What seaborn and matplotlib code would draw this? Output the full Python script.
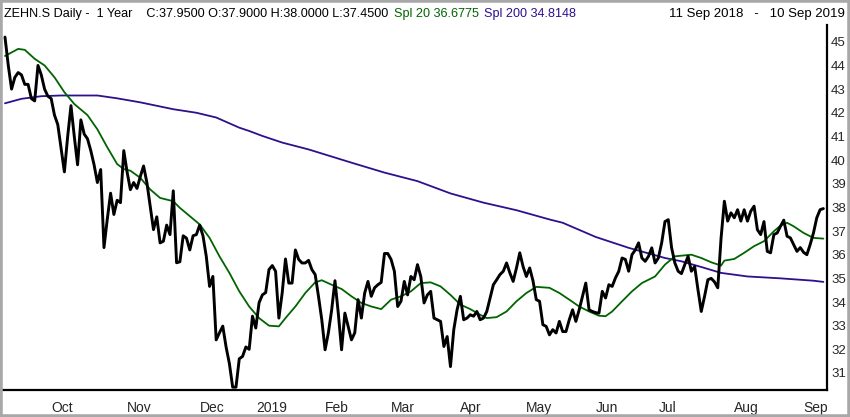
import numpy as np
import pandas as pd
import matplotlib
matplotlib.use("Agg")
import matplotlib.pyplot as plt
import matplotlib.patches as mpatches
import seaborn as sns

sns.set_style("white")
plt.rcParams["font.family"] = ["Liberation Sans", "DejaVu Sans"]

# trading days (SIX), 11 Sep 2018 - 10 Sep 2019
start, end = "2018-09-11", "2019-09-10"
holidays = ["2018-12-24", "2018-12-25", "2018-12-26", "2018-12-31",
            "2019-01-01", "2019-01-02", "2019-04-19", "2019-04-22",
            "2019-05-01", "2019-05-30", "2019-06-10", "2019-08-01"]

# daily close
close = [
    45.2, 44.0, 43.0, 43.5, 43.7, 43.6, 43.2, 43.2, 42.6, 42.5,
    44.0, 43.6, 43.0, 42.7, 42.6, 41.9, 41.5, 40.5, 39.5, 41.0,
    42.3, 41.0, 39.8, 41.7, 41.1, 40.9, 40.4, 39.8, 39.05, 39.6,
    36.3, 37.5, 38.6, 37.7, 38.3, 38.2, 40.4, 39.5, 38.75, 39.05,
    38.8, 39.3, 39.75, 39.05, 38.05, 37.06, 37.6, 36.5, 36.57, 37.25,
    36.85, 38.7, 35.66, 35.7, 36.8, 36.7, 36.2, 36.8, 36.85, 37.25,
    36.8, 35.93, 34.66, 35.08, 32.4, 32.7, 32.98, 32.1, 31.4, 30.4,
    30.4, 31.6, 31.7, 32.1, 32.0, 33.4, 32.9, 33.97, 34.3, 34.4,
    35.37, 35.54, 35.3, 33.32, 34.38, 35.82, 34.8, 34.8, 36.2, 35.8,
    35.65, 35.65, 35.76, 35.37, 35.16, 34.24, 33.25, 31.98, 32.7, 33.67,
    34.9, 33.53, 31.98, 33.53, 32.97, 32.4, 32.7, 34.1, 33.32, 34.38,
    34.87, 34.24, 34.6, 34.73, 34.83, 36.05, 36.05, 35.8, 35.3, 33.81,
    34.03, 34.87, 34.3, 35.08, 34.94, 35.58, 35.08, 33.96, 34.3, 34.45,
    33.32, 33.25, 33.18, 32.12, 32.54, 31.27, 32.83, 33.67, 34.24, 33.25,
    33.32, 33.46, 33.4, 33.6, 33.25, 33.32, 33.6, 34.17, 34.73, 34.94,
    35.16, 35.3, 35.65, 35.23, 34.87, 35.44, 36.08, 35.5, 35.08, 35.44,
    34.9, 34.1, 34.03, 33.04, 32.97, 32.61, 32.83, 32.69, 33.18, 32.75,
    32.75, 33.25, 33.67, 33.18, 33.67, 34.24, 34.8, 33.67, 33.6, 33.55,
    33.53, 34.45, 34.17, 34.73, 34.66, 35.02, 35.3, 35.86, 35.8, 35.3,
    36.0, 36.2, 36.5, 35.86, 35.72, 35.93, 36.29, 35.65, 35.86, 36.5,
    37.4, 37.48, 36.3, 35.65, 35.3, 35.2, 35.58, 35.93, 35.3, 35.5,
    34.52, 33.6, 34.24, 34.94, 35.0, 34.85, 34.6, 36.7, 38.26, 37.42,
    37.77, 37.56, 37.9, 37.42, 37.9, 37.42, 37.84, 38.05, 37.06, 36.85,
    37.4, 36.14, 36.08, 36.85, 36.92, 37.2, 37.46, 36.78, 36.71, 36.43,
    36.14, 36.3, 36.1, 36.0, 36.43, 36.92, 37.56, 37.9, 37.95,
]

# simple moving averages, sampled at trading-day numbers
sma20_day = [0, 4, 6, 9, 12, 15, 18, 21, 25, 28, 31, 34, 36, 38, 41, 44, 47,
             51, 53, 56, 59, 62, 65, 68, 71, 74, 77, 80, 83, 85, 88, 91, 94,
             96, 99, 102, 105, 108, 111, 114, 117, 120, 123, 126, 129, 132,
             135, 138, 141, 144, 146, 149, 152, 155, 158, 161, 165, 168, 171,
             174, 177, 180, 182, 184, 187, 190, 193, 197, 200, 203, 208, 211,
             214, 217, 218, 221, 224, 227, 230, 233, 235, 237, 239, 242, 245,
             248]
sma20_val = [44.4, 44.7, 44.66, 44.28, 44.0, 43.5, 42.87, 42.37, 41.9, 41.3,
             40.54, 39.83, 39.62, 39.55, 39.25, 38.76, 38.4, 38.26, 37.98,
             37.63, 37.28, 36.71, 35.93, 35.23, 34.45, 33.81, 33.32, 33.0,
             32.97, 33.32, 33.81, 34.38, 34.83, 34.92, 34.73, 34.55, 34.24,
             33.96, 33.81, 33.7, 34.1, 34.24, 34.45, 34.8, 34.83, 34.66, 34.3,
             33.89, 33.7, 33.46, 33.32, 33.36, 33.6, 34.03, 34.38, 34.64, 34.6,
             34.38, 34.1, 33.81, 33.6, 33.42, 33.4, 33.6, 34.03, 34.45, 34.8,
             35.08, 35.58, 35.93, 36.0, 35.86, 35.68, 35.54, 35.75, 35.82,
             36.08, 36.36, 36.57, 36.99, 37.23, 37.35, 37.2, 36.92, 36.71,
             36.68]

sma200_day = [0, 5, 11, 17, 23, 28, 34, 41, 51, 58, 64, 71, 74, 78, 84, 92,
              105, 115, 125, 135, 145, 155, 165, 169, 179, 189, 200, 205, 211,
              217, 225, 235, 245, 248]
sma200_val = [42.4, 42.59, 42.7, 42.73, 42.73, 42.73, 42.61, 42.44, 42.15,
              42.0, 41.8, 41.37, 41.23, 41.02, 40.74, 40.45, 39.89, 39.47,
              39.11, 38.59, 38.2, 37.88, 37.49, 37.35, 36.75, 36.29, 35.86,
              35.72, 35.48, 35.23, 35.08, 35.0, 34.9, 34.85]

yticks = list(range(31, 46))

dates = pd.bdate_range(start, end).drop(pd.to_datetime(holidays))
n = min(len(dates), len(close))
dates = dates[:n]
df = pd.DataFrame({"day": np.arange(n), "close": close[:n]})
sma20 = pd.DataFrame({"day": sma20_day, "value": sma20_val})
sma200 = pd.DataFrame({"day": sma200_day, "value": sma200_val})

fig = plt.figure(figsize=(8.5, 4.17), dpi=100)
ax = fig.add_axes([3 / 850, 27 / 417, 824 / 850, 365 / 417])

sns.lineplot(data=sma200, x="day", y="value", color="#2e0f8c", lw=1.3, ax=ax)
sns.lineplot(data=sma20, x="day", y="value", color="#006400", lw=1.3, ax=ax)
sns.lineplot(data=df, x="day", y="close", color="black", lw=2.1, ax=ax)

ax.set_xlim(-0.6, 249.1)
ax.set_ylim(30.28, 45.71)
ax.set_xlabel("")
ax.set_ylabel("")

# month ticks at the first trading day of each month
months = dates.to_period("M")
first = np.flatnonzero(months[1:] != months[:-1]) + 1
labels = ["2019" if dates[i].month == 1 else dates[i].strftime("%b") for i in first]
ax.set_xticks(first)
ax.set_xticklabels(labels, ha="left")
ax.tick_params(axis="x", direction="out", length=6, width=1.5, color="black",
               pad=2, labelsize=10)

ax.yaxis.tick_right()
ax.set_yticks(yticks)
ax.tick_params(axis="y", length=0, pad=3, labelsize=9.5)

for side in ["left", "top"]:
    ax.spines[side].set_visible(False)
for side in ["right", "bottom"]:
    ax.spines[side].set_color("black")
    ax.spines[side].set_linewidth(1.6)

# header
fig.canvas.draw()
renderer = fig.canvas.get_renderer()
x = 4 / 850
segments = [("ZEHN.S Daily -  1 Year    C:37.9500 O:37.9000 H:38.0000 L:37.4500 ", "black"),
            ("Spl 20 36.6775 ", "#006400"),
            ("Spl 200 34.8148", "#2e0f8c")]
for txt, col in segments:
    t = fig.text(x, 1 - 17 / 417, txt, color=col, fontsize=9.1, va="baseline")
    bb = t.get_window_extent(renderer)
    x = bb.x1 / fig.bbox.width + 2 / 850
fig.text(845 / 850, 1 - 17 / 417, "11 Sep 2018   -   10 Sep 2019", color="black",
         fontsize=9.5, va="baseline", ha="right")

fig.patches.append(mpatches.Rectangle((0, 0), 1, 1, transform=fig.transFigure,
                                      fill=False, edgecolor="#a8a8a8", lw=4))

fig.savefig("out.png", dpi=100)
